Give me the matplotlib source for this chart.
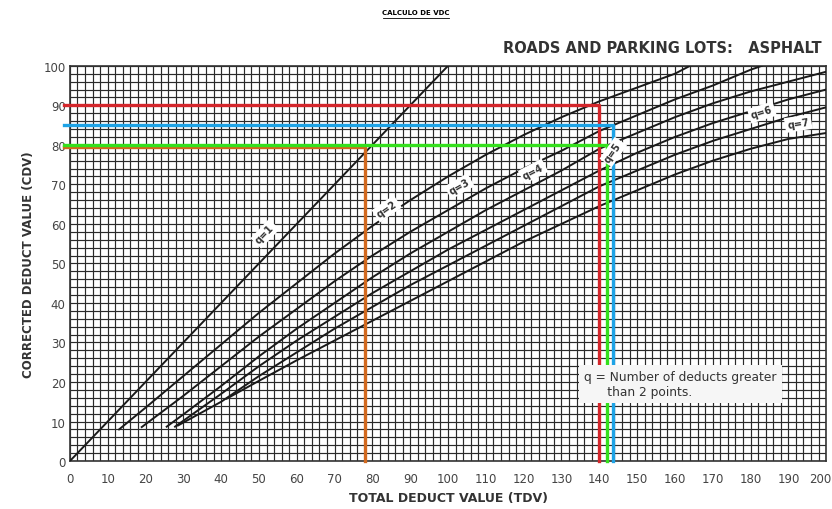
import numpy as np
import matplotlib.pyplot as plt
from matplotlib import transforms

# CDV correction curves, asphalt roads and parking lots (q = number of deducts > 2)
q1_tdv = [0, 100]
q1_cdv = [0, 100]
q2_tdv = [13, 20, 30, 40, 50, 60, 70, 80, 90, 100, 110, 120, 130, 140, 150, 160, 164]
q2_cdv = [8, 13.5, 21.5, 29.5, 37.5, 45, 52.5, 59.5, 66, 72, 77.5, 82.5, 87, 91, 94.5, 98, 100]
q3_tdv = [19, 30, 40, 50, 60, 70, 80, 90, 100, 110, 120, 130, 140, 150, 160, 170, 180, 183]
q3_cdv = [8.6, 16.5, 24, 31.5, 38.5, 45.5, 52, 58, 63.5, 69, 74, 78.5, 83.5, 87.5, 91.5, 95, 99, 100]
q4_tdv = [25.6, 30, 40, 50, 60, 70, 80, 90, 100, 110, 120, 130, 140, 150, 160, 170, 180, 190, 200]
q4_cdv = [8.7, 11.8, 19, 26.5, 33.5, 40, 46.5, 52.5, 58, 63.5, 68.5, 73.5, 79, 83, 87, 90.5, 93.5, 96, 98.5]
q5_tdv = [27.8, 30, 40, 50, 60, 70, 80, 90, 100, 110, 120, 130, 140, 150, 160, 170, 180, 190, 200]
q5_cdv = [8.7, 10.2, 17, 24, 30.5, 36.5, 42.5, 48, 53.5, 58.5, 63.5, 68.5, 73.5, 78, 82, 85.5, 88.5, 91.5, 94]
q6_tdv = [28.6, 40, 50, 60, 70, 80, 90, 100, 110, 120, 130, 140, 150, 160, 170, 180, 190, 200]
q6_cdv = [9, 15, 21.5, 27.5, 33.5, 39, 44.5, 49.5, 54.5, 59.5, 64.5, 69.5, 73.5, 77.5, 81, 84, 87, 89.5]
q7_tdv = [41.5, 50, 60, 70, 80, 90, 100, 110, 120, 130, 140, 150, 160, 170, 180, 190, 200]
q7_cdv = [15.8, 20.3, 25.5, 30.5, 35.5, 40.5, 45.5, 50.5, 55.5, 60, 64.5, 68.5, 72.5, 76, 79, 81.5, 83]

curves = [
    (q1_tdv, q1_cdv, 'q=1', 51.6, 57.5),
    (q2_tdv, q2_cdv, 'q=2', 83.8, 63.8),
    (q3_tdv, q3_cdv, 'q=3', 103, 69.5),
    (q4_tdv, q4_cdv, 'q=4', 122.5, 73.3),
    (q5_tdv, q5_cdv, 'q=5', 143.7, 78.2),
    (q6_tdv, q6_cdv, 'q=6', 183, 88.2),
    (q7_tdv, q7_cdv, 'q=7', 192.6, 85.4),
]

# worked readings drawn on top of the chart: (tdv, cdv, colour)
reads_tdv = [78, 140, 143.5, 142]
reads_cdv = [79.4, 90, 85, 80]
reads_col = ['#d2691e', '#d4262b', '#1ea3e6', '#35e01d']

fig = plt.figure(figsize=(8.32, 5.1), dpi=100)
ax = fig.add_axes([0.084, 0.094, 0.909, 0.775])

ax.set_xlim(0, 200)
ax.set_ylim(0, 100)
for v in np.arange(0, 201, 2):
    ax.axvline(v, color='#2a2a2a', lw=0.85, zorder=1)
for v in np.arange(0, 101, 2):
    ax.axhline(v, color='#2a2a2a', lw=0.85, zorder=1)

for tdv, cdv, lab, lx, ly in curves:
    ax.plot(tdv, cdv, color='#1a1a1a', lw=1.4, zorder=3)
    # label rotated along the curve
    slope = np.interp(lx + 2, tdv, cdv) - np.interp(lx - 2, tdv, cdv)
    ang = np.degrees(np.arctan2(slope * 3.95, 4 * 3.78))
    if lab == 'q=5':
        ang = 55
    ax.text(lx, ly, lab, rotation=ang, ha='center', va='center', fontsize=7,
            fontweight='bold', zorder=5, color='#333333',
            bbox=dict(boxstyle='square,pad=0.25', fc='white', ec='none'))

for t, c, col in zip(reads_tdv, reads_cdv, reads_col):
    ax.plot([-1.5, t, t], [c, c, 0], color=col, lw=2.4, zorder=4, clip_on=False)

ax.text(136, 19.5, 'q = Number of deducts greater\n      than 2 points.', fontsize=8.8,
        va='center', ha='left', zorder=5, color='#333333', linespacing=1.25,
        bbox=dict(boxstyle='square,pad=0.4', fc='#f6f6f6', ec='none'))

ax.set_xticks(np.arange(0, 201, 10))
ax.set_yticks(np.arange(0, 101, 10))
ax.tick_params(length=0, labelsize=8.5, colors='#444444')
ax.tick_params(axis='x', pad=8)
ax.tick_params(axis='y', pad=3)
# keep the last tick label inside the figure
lab200 = ax.get_xticklabels()[-1]
lab200.set_transform(lab200.get_transform() + transforms.ScaledTranslation(-6 / 100, 0, fig.dpi_scale_trans))
for s in ax.spines.values():
    s.set_linewidth(1.2)
    s.set_color('#333333')

ax.set_xlabel('TOTAL DEDUCT VALUE (TDV)', fontsize=9, fontweight='bold', color='#333333', labelpad=4)
ax.set_ylabel('CORRECTED DEDUCT VALUE (CDV)', fontsize=8.5, fontweight='bold', color='#333333', labelpad=6)

fig.text(0.988, 0.905, 'ROADS AND PARKING LOTS:   ASPHALT', ha='right', va='center',
         fontsize=10.5, fontweight='bold', color='#333333')
fig.text(0.5, 0.975, 'CALCULO DE VDC', ha='center', va='center', fontsize=5,
         fontweight='bold')
fig.add_artist(plt.Line2D([0.46, 0.54], [0.963, 0.963], color='black', lw=0.6))

fig.savefig('out.png', dpi=100)
